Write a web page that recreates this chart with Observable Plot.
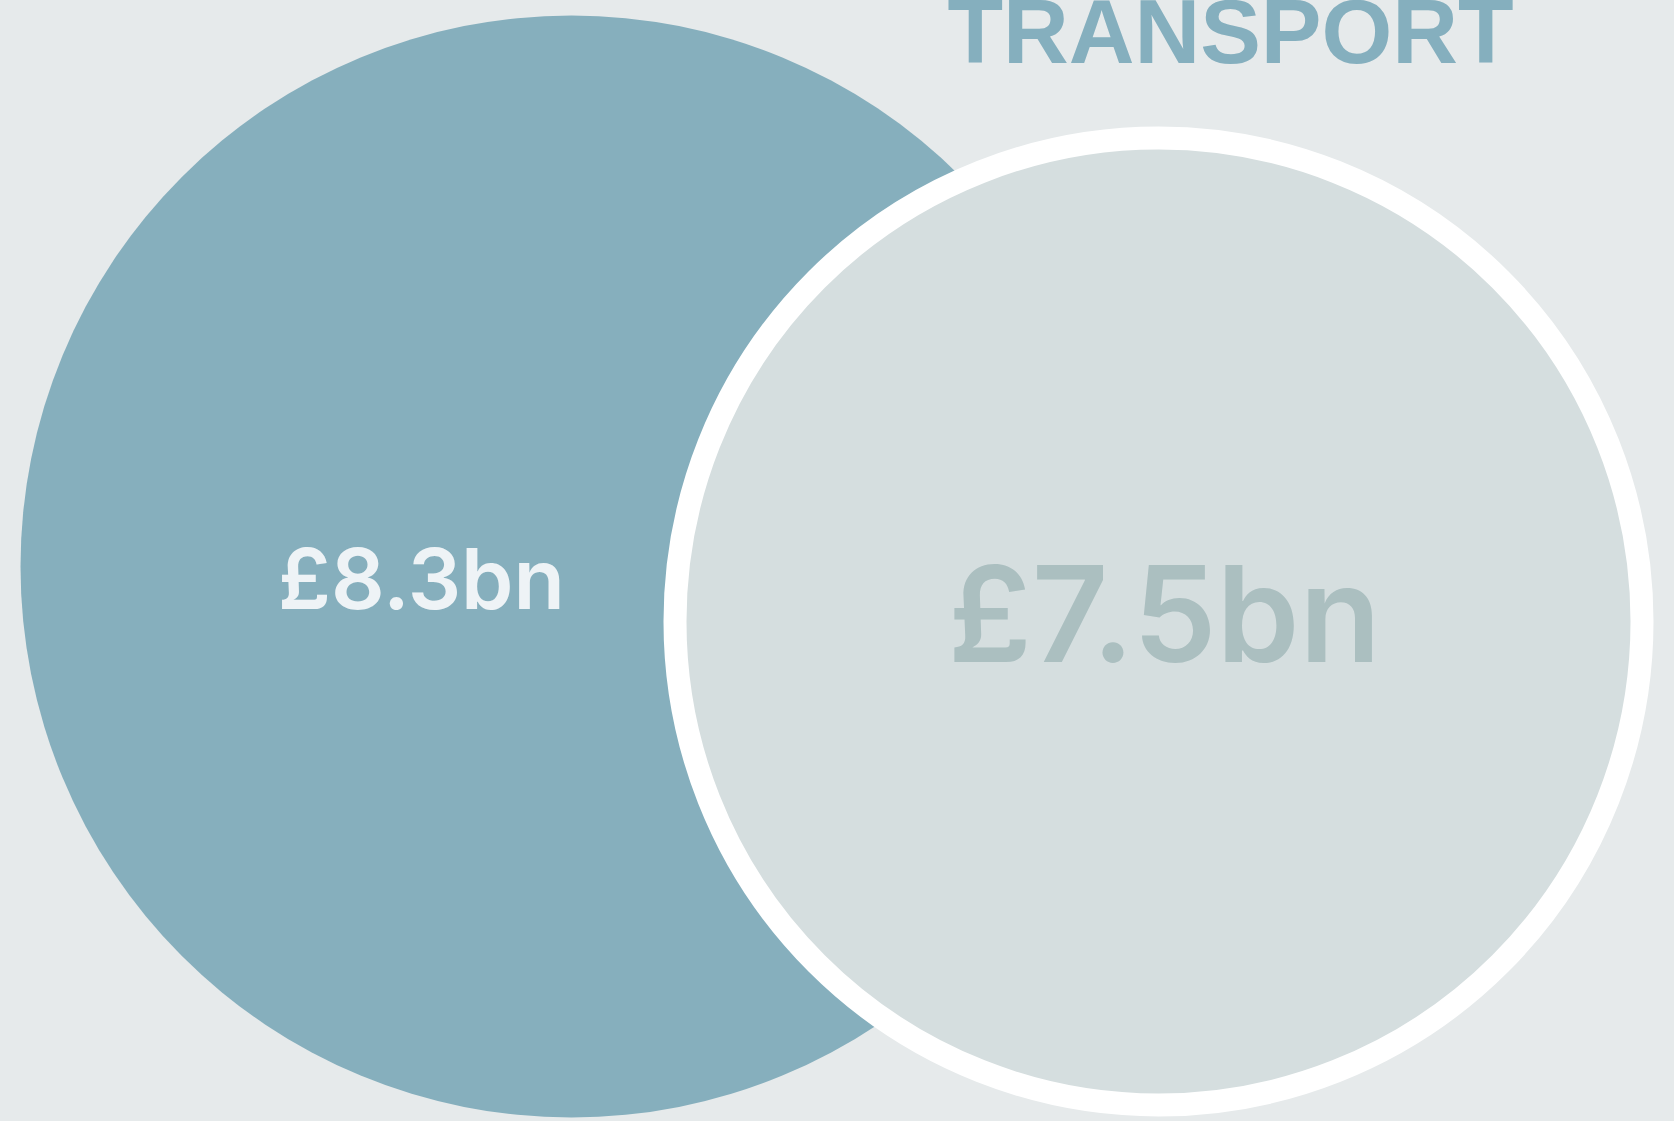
<!DOCTYPE html>
<html>
<head>
<meta charset="utf-8">
<script src="https://cdn.jsdelivr.net/npm/d3@7"></script>
<script src="https://cdn.jsdelivr.net/npm/@observablehq/plot@0.6"></script>
<style>
  html, body { margin: 0; padding: 0; background: #e6eaeb; overflow: hidden; }
  #chart svg { display: block; }
</style>
</head>
<body>
<div id="chart"></div>
<script>
// Data
const categories = ["Total", "Transport"];
const values = [8.3, 7.5];          // £bn
const valueLabels = ["£8.3bn", "£7.5bn"];
const heading = "TRANSPORT";

const data = categories.map((c, i) => ({category: c, value: values[i], label: valueLabels[i]}));
const big = data.filter(d => d.category === "Total");
const small = data.filter(d => d.category === "Transport");

const chart = Plot.plot({
  width: 1674,
  height: 1121,
  margin: 0,
  style: {background: "#e6eaeb", overflow: "hidden"},
  x: {type: "point", domain: categories, range: [571, 1158], padding: 0, axis: null},
  y: {type: "point", domain: categories, range: [566, 621], padding: 0, axis: null},
  r: {type: "linear", domain: [7.5, 8.3], range: [483.5, 551]},
  marks: [
    Plot.dot(big, {x: "category", y: "category", r: "value", fill: "#86afbd", stroke: "none"}),
    Plot.dot(small, {x: "category", y: "category", r: "value", fill: "#d5dedf", stroke: "#ffffff", strokeWidth: 23}),
    Plot.text(big, {x: "category", y: "category", text: "label", dx: -150, dy: 16,
      fill: "#eef3f6", fontSize: 84, fontWeight: 600,
      fontFamily: "Inter, 'Liberation Sans', sans-serif", textAnchor: "middle"}),
    Plot.text(small, {x: "category", y: "category", text: "label", dx: 6, dy: -2,
      fill: "#abbfc0", fontSize: 133, fontWeight: 600,
      fontFamily: "Inter, 'Liberation Sans', sans-serif", textAnchor: "middle"}),
    Plot.text(small, {x: "category", y: "category", text: () => heading, dx: 72, dy: -559,
      lineAnchor: "bottom", fill: "#85afbe", fontSize: 91, fontWeight: 700,
      fontFamily: "'Liberation Sans', Arial, sans-serif", textAnchor: "middle"})
  ]
});
document.getElementById("chart").appendChild(chart);
</script>
</body>
</html>
